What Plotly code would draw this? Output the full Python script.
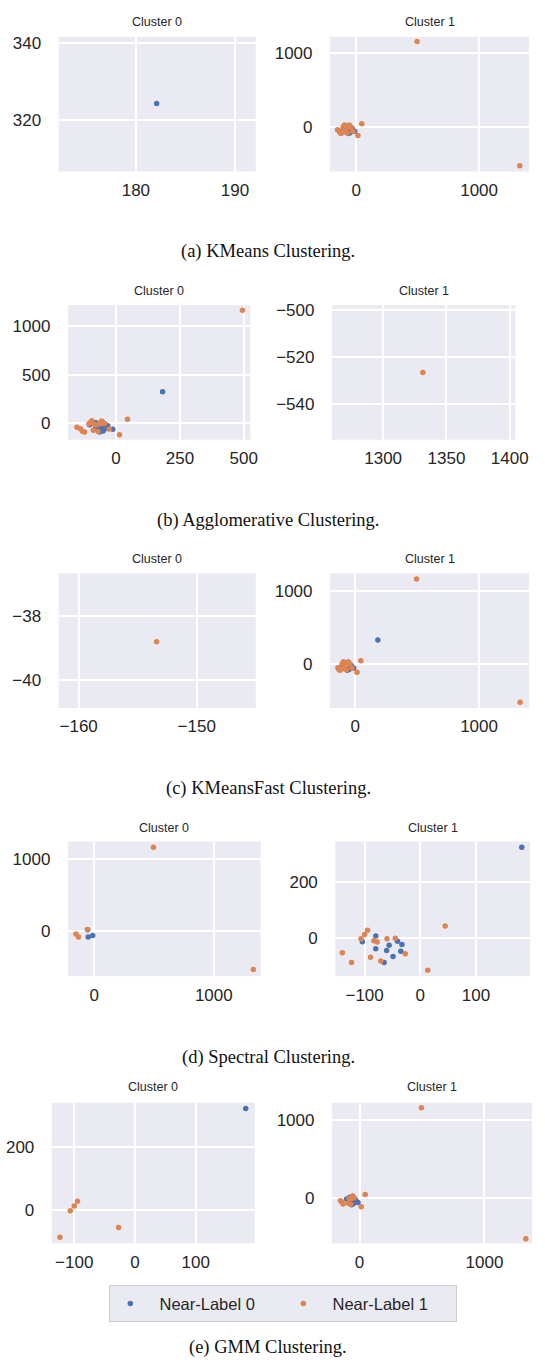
import plotly.graph_objects as go

# ---------------- data ----------------
X = [182.1, -104, -80, -56, -41, -33, -80, -60.5, -35, -49, -65, -51, -13, -55,
     44.6, -94.7, -100, -106.5, -83.5, -77.5, -59.8, -45, -27, -140, -123.5,
     -89.4, -71, 13.3, -153.4, -132, -58, 495, 1331.4]
Y = [324.3, -14, 7, -26, -12, -24, -39, -45, -47.5, -66.5, -88, -78, -59, 20,
     43, 27.5, 12, -3.5, -10.7, -15, -3.5, -1, -57, -53.5, -88,
     -69, -83, -116, -38.8, -80, 24, 1158, -526.6]
NEAR_LABEL = [0] * 14 + [1] * 19

KMEANS = [0] + [1] * 32
AGGLOMERATIVE = [0] * 32 + [1]
KMEANSFAST = [1] * 28 + [0] + [1] * 4
SPECTRAL = [1] * 11 + [0, 0, 0] + [1] * 14 + [0, 0, 0, 0, 0]
GMM = [0] + [1] * 14 + [0, 0, 0] + [1] * 4 + [0] + [1] + [0] + [1] * 8

METHOD_CLUSTERS = [KMEANS, AGGLOMERATIVE, KMEANSFAST, SPECTRAL, GMM]
CAPTIONS = ["(a) KMeans Clustering.", "(b) Agglomerative Clustering.",
            "(c) KMeansFast Clustering.", "(d) Spectral Clustering.",
            "(e) GMM Clustering."]
CLUSTER_TITLES = ["Cluster 0", "Cluster 1"]
LEGEND_NAMES = ["Near-Label 0", "Near-Label 1"]

# ---------------- layout constants ----------------
W, H = 545, 1365
COLORS = ["#4C72B0", "#DD8452"]
BG = "#EAEAF2"

# left, right, top, bottom (px), xrange, yrange, xdtick, ydtick
PANELS = [
    (60, 262, 33, 168, [172.2, 192.1], [306.5, 341.7], 10, 20),
    (338, 542, 33, 168, [-214.6, 1407], [-604, 1220], 1000, 1000),
    (69.5, 256.5, 302, 437, [-189, 526], [-166, 1211], 250, 500),
    (340, 528, 302, 437, [1259.5, 1404.5], [-555.3, -497.9], 50, 20),
    (60, 262, 571, 706, [-161.7, -145], [-40.88, -36.65], 10, 2),
    (338, 542, 571, 706, [-205, 1404], [-604, 1237], 1000, 1000),
    (69.5, 267, 840, 975, [-221, 1392], [-619, 1238], 1000, 1000),
    (343.4, 543, 840, 975, [-152.8, 197], [-137, 345], 100, 200),
    (53, 261, 1102, 1243, [-137, 197], [-107.6, 342.5], 100, 200),
    (340, 545, 1102, 1243, [-222, 1381], [-586, 1222], 1000, 1000),
]
TITLE_Y = [18.5, 287.5, 557, 826, 1086.5]
CAPTION_Y = [248, 518, 787, 1057, 1347]

fig = go.Figure()
annotations = []
layout_axes = {}

for m, clusters in enumerate(METHOD_CLUSTERS):
    for c in range(2):
        idx = m * 2 + c
        left, right, top, bottom, xr, yr, xd, yd = PANELS[idx]
        xa = "x" if idx == 0 else f"x{idx + 1}"
        ya = "y" if idx == 0 else f"y{idx + 1}"
        for lab in range(2):
            xs = [X[i] for i in range(len(X)) if clusters[i] == c and NEAR_LABEL[i] == lab]
            ys = [Y[i] for i in range(len(X)) if clusters[i] == c and NEAR_LABEL[i] == lab]
            fig.add_trace(go.Scatter(
                x=xs, y=ys, mode="markers", xaxis=xa, yaxis=ya,
                marker=dict(color=COLORS[lab], size=5.5, line=dict(width=0)),
                name="\u00a0\u00a0" + LEGEND_NAMES[lab],
                showlegend=(m == 4 and c == 1),
                legendrank=lab,
            ))
        xkey = "xaxis" if idx == 0 else f"xaxis{idx + 1}"
        ykey = "yaxis" if idx == 0 else f"yaxis{idx + 1}"
        common = dict(
            showgrid=True, gridcolor="white", gridwidth=1.8, zeroline=False,
            showline=False, ticks="outside", tickcolor="rgba(0,0,0,0)",
            tickfont=dict(family="Liberation Sans, Arial", size=17, color="#262626"),
            tick0=0,
        )
        layout_axes[xkey] = dict(common, domain=[left / W, right / W], range=xr,
                                 dtick=xd, anchor=ya, ticklen=3)
        layout_axes[ykey] = dict(common, domain=[1 - bottom / H, 1 - top / H], range=yr,
                                 dtick=yd, anchor=xa, ticklen=13)
        annotations.append(dict(
            x=(left + right) / 2 / W, y=1 - TITLE_Y[m] / H, xref="paper", yref="paper",
            text=CLUSTER_TITLES[c], showarrow=False, xanchor="center", yanchor="middle",
            font=dict(family="Liberation Sans, Arial", size=12.5, color="#262626"),
        ))
    annotations.append(dict(
        x=275 / W, y=1 - CAPTION_Y[m] / H, xref="paper", yref="paper",
        text=CAPTIONS[m], showarrow=False, xanchor="center", yanchor="middle",
        font=dict(family="Liberation Serif, Times New Roman", size=18.5, color="#111111"),
    ))

fig.update_layout(
    width=W, height=H, margin=dict(l=0, r=0, t=0, b=0),
    paper_bgcolor="white", plot_bgcolor=BG,
    annotations=annotations,
    showlegend=True,
    legend=dict(
        orientation="h", x=112 / W, y=1 - 1285 / H, xanchor="left", yanchor="top",
        bgcolor=BG, bordercolor="#CCCCCC", borderwidth=1,
        font=dict(family="Liberation Sans, Arial", size=16.5, color="#262626"),
        entrywidth=128, entrywidthmode="pixels", itemsizing="trace",
    ),
    **layout_axes,
)

fig.write_html("out.html", config={"displayModeBar": False},
               post_script="document.body.style.margin='0px';")
